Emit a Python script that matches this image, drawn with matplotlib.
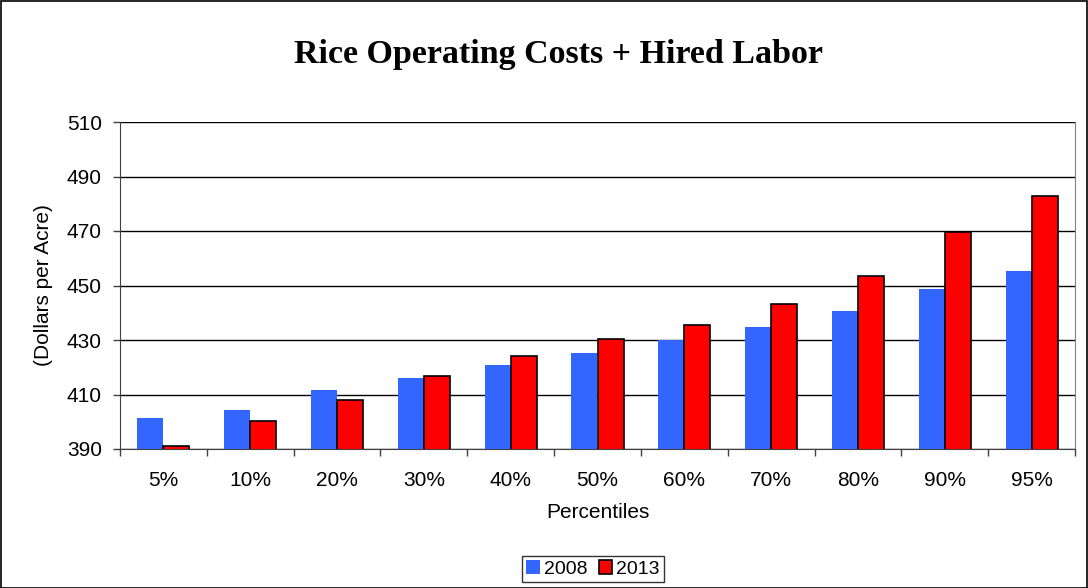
import numpy as np
import matplotlib.pyplot as plt
from matplotlib.patches import Rectangle

# ===== Data =====
percentiles = ["5%", "10%", "20%", "30%", "40%", "50%", "60%", "70%", "80%", "90%", "95%"]
costs_2008 = [401.3, 404.3, 411.7, 416.1, 420.8, 425.1, 429.9, 434.8, 440.5, 448.7, 455.2]
costs_2013 = [391.2, 400.3, 407.9, 416.9, 424.0, 430.5, 435.4, 443.1, 453.4, 469.5, 482.8]

plt.rcParams["font.family"] = ["Liberation Sans", "DejaVu Sans"]

# ===== Figure =====
W, H = 1088, 588
fig = plt.figure(figsize=(W / 100, H / 100), dpi=100)
ax = fig.add_axes([120 / W, (H - 449) / H, 955 / W, 327 / H])

x = np.arange(len(percentiles))
bw = 0.3
ax.bar(x - bw / 2, costs_2008, bw, color="#3366FF", label="2008", zorder=3)
ax.bar(x + bw / 2, costs_2013, bw, color="#FF0000", edgecolor="black", linewidth=1.2,
       label="2013", zorder=3)

ax.set_ylim(390, 510)
ax.set_yticks(range(390, 511, 20))
ax.set_xlim(-0.5, len(percentiles) - 0.5)
ax.set_xticks(x)
ax.set_xticklabels(percentiles)
ax.set_xticks(np.arange(-0.5, len(percentiles)), minor=True)
ax.tick_params(axis="x", which="major", length=0, pad=16, labelsize=15)
ax.tick_params(axis="x", which="minor", length=5, width=1, color="#404040")
ax.tick_params(axis="y", length=5, width=1, labelsize=15, pad=8, color="#404040")
ax.grid(axis="y", color="black", linewidth=1, zorder=0)

ax.spines["top"].set_visible(False)
ax.spines["right"].set_color("#808080")
ax.spines["left"].set_color("#404040")
ax.spines["bottom"].set_color("#404040")

ax.set_xlabel("Percentiles", fontsize=15, labelpad=9)
ax.set_ylabel("(Dollars per Acre)", fontsize=15, labelpad=10)

fig.text(558 / W, 1 - 55 / H, "Rice Operating Costs + Hired Labor", ha="center", va="center",
         family="Liberation Serif", fontweight="bold", fontsize=24.5)

leg = fig.legend(loc="center", bbox_to_anchor=(593 / W, 1 - 569 / H), ncol=2, fontsize=14,
                 frameon=True, fancybox=False, edgecolor="black", handlelength=0.7,
                 handleheight=0.7, handletextpad=0.2, columnspacing=0.6, borderpad=0.2)
leg.get_frame().set_linewidth(1)

fig.patches.append(Rectangle((0.5 / W, 0.5 / H), 1 - 1.5 / W, 1 - 1.5 / H, transform=fig.transFigure,
                             fill=False, edgecolor="black", linewidth=1.2))

plt.savefig("out.png", dpi=100)
